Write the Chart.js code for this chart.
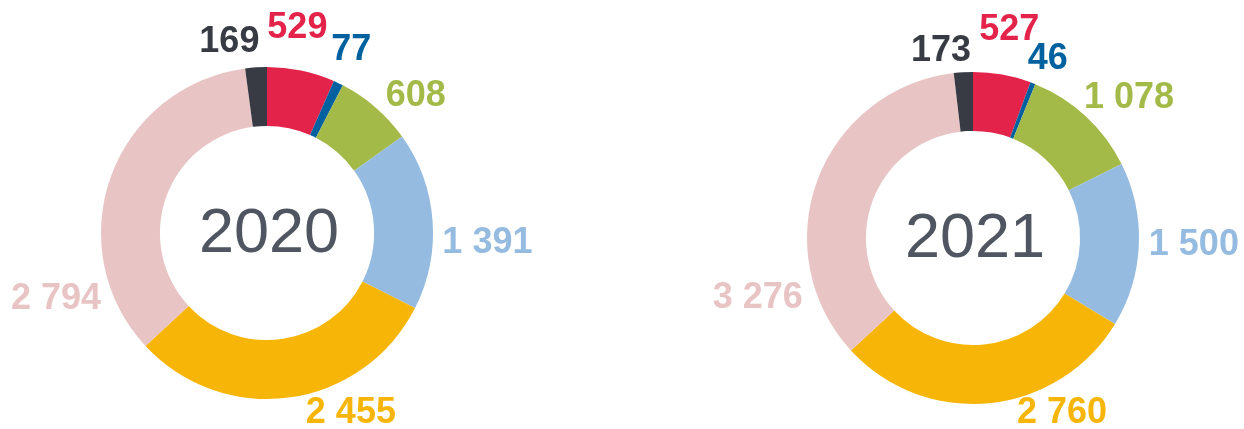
<!DOCTYPE html>
<html>
<head>
<meta charset="utf-8">
<script src="https://cdn.jsdelivr.net/npm/chart.js@4"></script>
<style>
    body { margin: 0; background: #fff; width: 1244px; height: 429px; overflow: hidden; position: relative; }
    .box { position: absolute; top: 0; }
</style>
</head>
<body>
<div class="box" style="left:0px"><canvas id="c2020" width="534" height="429"></canvas></div>
<div class="box" style="left:706px"><canvas id="c2021" width="534" height="429"></canvas></div>
<script>
const categories = ["Rouge", "Bleu", "Vert", "Bleu clair", "Jaune", "Rose", "Gris"];
const values2020 = [529, 77, 608, 1391, 2455, 2794, 169];
const values2021 = [527, 46, 1078, 1500, 2760, 3276, 173];
const years = ["2020", "2021"];

const colors = ["#e4234a", "#0061a0", "#a3ba48", "#95bbe0", "#f7b607", "#e8c4c5", "#383b44"];

// label nudges (px), same order as the slices
const nudge2020 = [[-12, -20], [0, -12], [14, 6], [0, 24], [53, -7], [-3, 130], [-24, -2]];
const nudge2021 = [[0, -22], [4, -3], [6, -1], [0, -1], [67, -13], [-8, 126], [-20, 2]];

function fmt(v) {
    return String(v).replace(/\B(?=(\d{3})+(?!\d))/g, ' ');
}

const labelPlugin = {
    id: 'labels',
    afterDatasetsDraw(chart, args, opts) {
        const ctx = chart.ctx;
        const meta = chart.getDatasetMeta(0);
        const data = chart.data.datasets[0].data;
        ctx.save();
        ctx.font = "bold 36px 'Liberation Sans', Arial, sans-serif";
        ctx.textAlign = 'center';
        ctx.textBaseline = 'middle';
        meta.data.forEach((arc, i) => {
            const mid = (arc.startAngle + arc.endAngle) / 2;
            const dx = Math.cos(mid), dy = Math.sin(mid);
            const r = arc.outerRadius + 10;
            const txt = fmt(data[i]);
            const w = ctx.measureText(txt).width;
            const h = 26;
            const n = opts.nudge[i];
            const x = arc.x + dx * r + dx * w / 2 + n[0];
            const y = arc.y + dy * r + dy * h / 2 + n[1];
            ctx.fillStyle = colors[i];
            ctx.fillText(txt, x, y);
        });
        const a = meta.data[0];
        ctx.font = "63px 'Liberation Sans', Arial, sans-serif";
        ctx.fillStyle = '#4f5561';
        ctx.fillText(opts.title, a.x + 2, a.y + 2);
        ctx.restore();
    }
};

function drawDoughnut(id, values, title, nudge, padTop, padBottom) {
    new Chart(document.getElementById(id), {
        type: 'doughnut',
        data: {
            labels: categories,
            datasets: [{
                data: values,
                backgroundColor: colors,
                borderWidth: 0
            }]
        },
        options: {
            responsive: false,
            animation: false,
            cutout: '64.5%',
            layout: { padding: { top: padTop, bottom: padBottom, left: 101, right: 101 } },
            plugins: {
                legend: { display: false },
                tooltip: { enabled: false },
                labels: { nudge: nudge, title: title }
            }
        },
        plugins: [labelPlugin]
    });
}

drawDoughnut('c2020', values2020, years[0], nudge2020, 67, 30);
drawDoughnut('c2021', values2021, years[1], nudge2021, 72, 25);
</script>
</body>
</html>
